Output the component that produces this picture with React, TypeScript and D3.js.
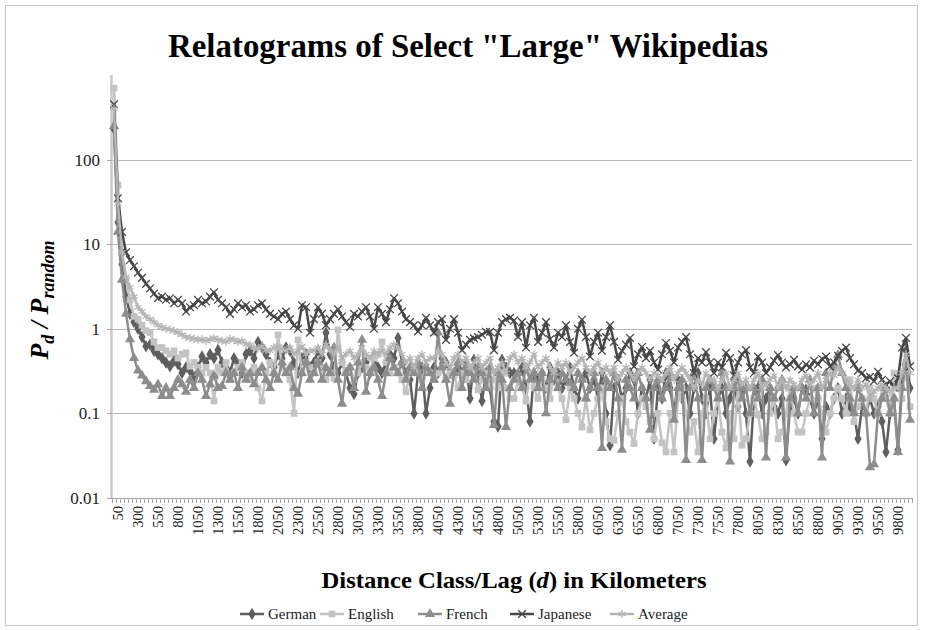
import React from "react";
import * as d3 from "d3";

// Distance classes (km), 50..10000 step 50
const categories: number[] = d3.range(50, 10001, 50);
const yTickValues = [0.01, 0.1, 1, 10, 100];
const yTickLabels = ["0.01", "0.1", "1", "10", "100"];

const german = [
  230, 18, 5.8, 2.4, 1.5, 1.2, 1.0, 0.8, 0.62, 0.65,
  0.55, 0.5, 0.45, 0.4, 0.36, 0.42, 0.38, 0.3, 0.35, 0.32,
  0.27, 0.35, 0.47, 0.4, 0.5, 0.45, 0.56, 0.4, 0.35, 0.3,
  0.45, 0.38, 0.3, 0.5, 0.55, 0.45, 0.7, 0.6, 0.5, 0.4,
  0.35, 0.5, 0.45, 0.6, 0.55, 0.4, 0.3, 0.45, 0.5, 0.35,
  0.4, 0.55, 0.45, 0.9, 0.5, 0.35, 0.3, 0.4, 0.3, 0.2,
  0.17, 0.3, 0.35, 0.4, 0.3, 0.45, 0.35, 0.3, 0.4, 0.5,
  0.45, 0.78, 0.4, 0.3, 0.25, 0.1, 0.3, 0.35, 0.1, 0.2,
  0.35, 0.3, 0.45, 0.4, 0.3, 0.3, 0.35, 0.3, 0.4, 0.15,
  0.43, 0.3, 0.14, 0.3, 0.2, 0.08, 0.07, 0.43, 0.35, 0.3,
  0.3, 0.25, 0.35, 0.2, 0.08, 0.3, 0.25, 0.3, 0.2, 0.35,
  0.25, 0.3, 0.2, 0.25, 0.35, 0.2, 0.15, 0.25, 0.3, 0.2,
  0.25, 0.15, 0.3, 0.1, 0.042, 0.2, 0.25, 0.15, 0.2, 0.3,
  0.25, 0.1, 0.2, 0.15, 0.25, 0.05, 0.2, 0.15, 0.3, 0.2,
  0.1, 0.25, 0.15, 0.2, 0.1, 0.2, 0.3, 0.15, 0.1, 0.2,
  0.05, 0.15, 0.2, 0.1, 0.15, 0.25, 0.12, 0.2, 0.1, 0.027,
  0.15, 0.2, 0.1, 0.15, 0.2, 0.12, 0.1, 0.15, 0.028, 0.12,
  0.15, 0.1, 0.2, 0.19, 0.15, 0.1, 0.15, 0.05, 0.12, 0.1,
  0.15, 0.2, 0.1, 0.15, 0.12, 0.1, 0.05, 0.12, 0.1, 0.15,
  0.1, 0.12, 0.08, 0.035, 0.1, 0.15, 0.037, 0.25, 0.55, 0.2,
];

const english = [
  700, 50, 8, 3.8, 2.2, 1.4, 1.3, 1.1, 0.95, 0.9,
  0.7, 0.6, 0.6, 0.55, 0.5, 0.55, 0.45, 0.5, 0.52, 0.36,
  0.4, 0.35, 0.3, 0.35, 0.3, 0.14, 0.35, 0.3, 0.4, 0.25,
  0.3, 0.35, 0.4, 0.3, 0.25, 0.35, 0.2, 0.14, 0.3, 0.4,
  0.3, 0.85, 0.35, 0.3, 0.25, 0.1, 0.74, 0.3, 0.4, 0.35,
  0.3, 0.4, 0.35, 0.25, 0.3, 0.26, 0.97, 0.4, 0.3, 0.35,
  0.25, 0.3, 0.4, 0.35, 0.3, 0.45, 0.5, 0.7, 0.4, 0.3,
  0.35, 0.3, 0.25, 0.18, 0.3, 0.35, 0.3, 0.25, 0.35, 0.3,
  0.25, 0.3, 0.35, 0.25, 0.3, 0.28, 0.2, 0.3, 0.25, 0.35,
  0.3, 0.19, 0.25, 0.3, 0.2, 0.25, 0.2, 0.3, 0.2, 0.15,
  0.15, 0.25, 0.2, 0.14, 0.3, 0.2, 0.15, 0.25, 0.2, 0.15,
  0.3, 0.2, 0.15, 0.084, 0.2, 0.15, 0.1, 0.069, 0.15, 0.064,
  0.1, 0.15, 0.2, 0.08, 0.05, 0.048, 0.1, 0.15, 0.08, 0.06,
  0.044, 0.1, 0.15, 0.12, 0.08, 0.05, 0.1, 0.045, 0.035, 0.1,
  0.035, 0.15, 0.2, 0.1, 0.06, 0.08, 0.035, 0.1, 0.15, 0.05,
  0.1, 0.15, 0.06, 0.039, 0.1, 0.05, 0.2, 0.042, 0.05, 0.1,
  0.15, 0.096, 0.05, 0.06, 0.1, 0.15, 0.05, 0.06, 0.1, 0.2,
  0.1, 0.06, 0.06, 0.1, 0.15, 0.2, 0.15, 0.1, 0.06, 0.1,
  0.15, 0.2, 0.15, 0.1, 0.25, 0.08, 0.12, 0.15, 0.1, 0.2,
  0.15, 0.1, 0.2, 0.15, 0.1, 0.3, 0.2, 0.15, 0.4, 0.12,
];

const french = [
  250, 14, 3.8, 1.5, 0.75, 0.45, 0.32, 0.28, 0.24, 0.21,
  0.19, 0.22, 0.16, 0.2, 0.16, 0.2, 0.25, 0.22, 0.18, 0.25,
  0.2, 0.3, 0.25, 0.16, 0.22, 0.28, 0.2, 0.21, 0.3, 0.25,
  0.3, 0.2, 0.35, 0.25, 0.3, 0.22, 0.3, 0.35, 0.25, 0.2,
  0.3, 0.25, 0.4, 0.3, 0.35, 0.2, 0.17, 0.3, 0.4, 0.25,
  0.3, 0.4, 0.25, 0.35, 0.3, 0.6, 0.25, 0.13, 0.3, 0.35,
  0.2, 0.4, 0.74, 0.18, 0.3, 0.35, 0.25, 0.16, 0.3, 0.45,
  0.35, 0.3, 0.4, 0.25, 0.35, 0.3, 0.4, 0.2, 0.35, 0.3,
  0.25, 0.9, 0.35, 0.25, 0.13, 0.3, 0.4, 0.2, 0.35, 0.3,
  0.25, 0.35, 0.3, 0.2, 0.35, 0.073, 0.3, 0.25, 0.069, 0.2,
  0.25, 0.3, 0.2, 0.35, 0.25, 0.3, 0.2, 0.3, 0.1, 0.25,
  0.3, 0.2, 0.3, 0.25, 0.23, 0.2, 0.3, 0.25, 0.15, 0.2,
  0.3, 0.2, 0.039, 0.25, 0.2, 0.3, 0.15, 0.037, 0.25, 0.2,
  0.15, 0.3, 0.2, 0.15, 0.064, 0.2, 0.25, 0.15, 0.2, 0.3,
  0.084, 0.2, 0.25, 0.028, 0.2, 0.3, 0.15, 0.028, 0.2, 0.25,
  0.2, 0.15, 0.3, 0.2, 0.027, 0.2, 0.25, 0.15, 0.2, 0.1,
  0.2, 0.15, 0.25, 0.03, 0.2, 0.15, 0.2, 0.25, 0.03, 0.15,
  0.2, 0.1, 0.2, 0.15, 0.25, 0.1, 0.2, 0.03, 0.3, 0.2,
  0.35, 0.49, 0.3, 0.2, 0.15, 0.1, 0.2, 0.15, 0.1, 0.023,
  0.025, 0.1, 0.15, 0.2, 0.1, 0.15, 0.035, 0.2, 0.4, 0.084,
];

const japanese = [
  450, 35, 14, 8, 6.5, 5.5, 4.6, 4.0, 3.4, 3.0,
  2.6, 2.3, 2.4, 2.2, 2.3, 2.0, 2.2, 2.0, 1.6, 1.8,
  1.9, 2.2, 2.0, 2.1, 2.4, 2.7, 2.2, 2.0, 1.8, 1.5,
  1.7, 2.0, 1.8, 1.9, 1.6, 1.7, 1.9, 2.0, 1.7, 1.5,
  1.4, 1.3, 1.5, 1.6, 1.3, 1.1, 1.0, 1.9, 1.8, 0.9,
  1.3, 1.8, 1.5, 1.1, 1.3, 1.5, 1.7, 1.4, 1.2, 1.05,
  1.5, 1.4, 1.6, 1.8, 1.4, 1.0, 1.8, 1.5, 1.2, 1.7,
  2.3, 2.0, 1.6, 1.3, 1.2, 1.1, 0.93, 1.1, 1.35, 1.1,
  0.9, 1.2, 1.3, 0.74, 1.0, 1.3, 0.9, 0.56, 0.65, 0.74,
  0.77, 0.8, 0.85, 0.92, 0.92, 0.56, 0.9, 1.2, 1.3, 1.35,
  1.25, 0.8, 1.2, 0.6, 1.1, 1.35, 0.7, 0.9, 1.2, 0.75,
  0.6, 0.9, 0.8, 1.1, 0.7, 0.52, 1.0, 1.28, 0.8, 0.47,
  0.7, 0.9, 0.55, 0.8, 1.1, 0.7, 0.43, 0.55, 0.65, 0.78,
  0.36, 0.5, 0.61, 0.45, 0.55, 0.4, 0.33, 0.5, 0.68, 0.55,
  0.4, 0.6, 0.7, 0.8, 0.5, 0.3, 0.45, 0.4, 0.53, 0.4,
  0.3, 0.4, 0.35, 0.52, 0.45, 0.28, 0.4, 0.5, 0.56, 0.35,
  0.3, 0.47, 0.4, 0.3, 0.35, 0.42, 0.49, 0.4, 0.35, 0.38,
  0.43, 0.36, 0.33, 0.38, 0.35, 0.42, 0.38, 0.44, 0.47, 0.36,
  0.4, 0.48, 0.55, 0.6, 0.45, 0.38, 0.32, 0.3, 0.26, 0.27,
  0.24, 0.31, 0.25, 0.22, 0.24, 0.2, 0.26, 0.6, 0.78, 0.36,
];

const average = [
  400, 30, 8, 4.1, 3.1, 2.4, 1.8, 1.6, 1.4, 1.3,
  1.2, 1.1, 1.05, 1.0, 0.98, 0.95, 0.9, 0.85, 0.8, 0.78,
  0.76, 0.74, 0.75, 0.72, 0.75, 0.78, 0.74, 0.72, 0.7, 0.76,
  0.74, 0.7, 0.72, 0.66, 0.65, 0.6, 0.58, 0.62, 0.56, 0.55,
  0.6, 0.62, 0.58, 0.55, 0.6, 0.5, 0.55, 0.62, 0.5, 0.55,
  0.55, 0.6, 0.5, 0.65, 0.55, 0.5, 0.6, 0.45, 0.5, 0.55,
  0.45, 0.5, 0.6, 0.5, 0.45, 0.55, 0.5, 0.55, 0.5, 0.6,
  0.65, 0.6, 0.5, 0.4, 0.45, 0.35, 0.45, 0.5, 0.4, 0.45,
  0.45, 0.55, 0.5, 0.4, 0.35, 0.45, 0.5, 0.4, 0.45, 0.35,
  0.4, 0.45, 0.35, 0.4, 0.45, 0.3, 0.35, 0.4, 0.3, 0.45,
  0.5, 0.4, 0.45, 0.35, 0.4, 0.5, 0.35, 0.4, 0.45, 0.35,
  0.3, 0.4, 0.35, 0.4, 0.3, 0.35, 0.4, 0.45, 0.35, 0.3,
  0.35, 0.4, 0.3, 0.35, 0.3, 0.35, 0.25, 0.3, 0.35, 0.3,
  0.25, 0.3, 0.35, 0.3, 0.25, 0.3, 0.28, 0.25, 0.3, 0.35,
  0.25, 0.3, 0.35, 0.3, 0.25, 0.2, 0.25, 0.22, 0.3, 0.25,
  0.25, 0.2, 0.25, 0.3, 0.2, 0.25, 0.3, 0.22, 0.25, 0.2,
  0.25, 0.3, 0.2, 0.22, 0.25, 0.28, 0.2, 0.25, 0.2, 0.25,
  0.22, 0.2, 0.25, 0.28, 0.22, 0.25, 0.3, 0.2, 0.25, 0.3,
  0.28, 0.35, 0.3, 0.25, 0.22, 0.2, 0.25, 0.2, 0.22, 0.15,
  0.18, 0.2, 0.22, 0.2, 0.18, 0.2, 0.2, 0.3, 0.5, 0.3,
];

const seriesNames = ["German", "English", "French", "Japanese", "Average"];
const seriesData = [german, english, french, japanese, average];
const seriesColors = ["#5e5e5e", "#c3c3c3", "#8d8d8d", "#474747", "#b5b5b5"];
const seriesSymbols = [d3.symbolDiamond, d3.symbolSquare, d3.symbolTriangle, d3.symbolX, d3.symbolAsterisk];
const symbolFilled = [true, true, true, false, false];
const symbolSizes = [45, 45, 45, 40, 45];

const W = 925;
const H = 630;
const FONT = { fontFamily: '"Liberation Serif", "Times New Roman", Times, serif' };

export default function App() {
  const x = d3.scaleBand<number>().domain(categories).range([112, 912]).padding(0);
  const bw = x.bandwidth();
  const cx = (c: number) => (x(c) as number) + bw / 2;
  const y = d3.scaleLog().domain([0.01, 1000]).range([498, 75]);

  const line = d3
    .line<number>()
    .x((_, i) => cx(categories[i]))
    .y((v) => y(v));

  const tickLabelCats = categories.filter((_, i) => i % 5 === 0);

  const legendX = [240, 320, 418, 510, 610];

  return (
    <svg width={W} height={H} style={{ position: "absolute", left: 0, top: 0, background: "#fff", ...FONT }}>
      <rect x={0} y={0} width={W} height={H} fill="#fff" />
      <rect x={5.5} y={5.5} width={912} height={620} fill="none" stroke="#c4c4c4" strokeWidth={1} />
      <text x={468} y={57} textAnchor="middle" fontSize={34} fontWeight="bold" fill="#000" style={FONT}
        textLength={600} lengthAdjust="spacingAndGlyphs">
        Relatograms of Select "Large" Wikipedias
      </text>

      {/* gridlines */}
      {yTickValues.slice(1).map((v) => (
        <line key={v} x1={112} x2={912} y1={Math.round(y(v)) + 0.5} y2={Math.round(y(v)) + 0.5} stroke="#b8b8b8" strokeWidth={1} />
      ))}
      {/* x axis */}
      <line x1={112} x2={912} y1={498.5} y2={498.5} stroke="#a8a8a8" strokeWidth={1} />
      {d3.range(categories.length + 1).map((i) => (
        <line key={i} x1={112 + i * bw + 0.5} x2={112 + i * bw + 0.5} y1={498} y2={503} stroke="#a8a8a8" strokeWidth={1} />
      ))}
      {/* y axis */}
      <line x1={111.5} x2={111.5} y1={75} y2={498} stroke="#c8c8c8" strokeWidth={2.5} />
      {yTickValues.map((v) => (
        <line key={"t" + v} x1={107} x2={112} y1={Math.round(y(v)) + 0.5} y2={Math.round(y(v)) + 0.5} stroke="#a8a8a8" />
      ))}
      {yTickValues.map((v, i) => (
        <text key={"l" + v} x={100} y={y(v) + 6} textAnchor="end" fontSize={17} fill="#222" style={FONT}>
          {yTickLabels[i]}
        </text>
      ))}
      {tickLabelCats.map((c) => (
        <text
          key={"x" + c}
          transform={`translate(${cx(c) + 4},${506}) rotate(-90)`}
          textAnchor="end"
          dy="0.35em"
          fontSize={14.5}
          fill="#222"
          style={FONT}
        >
          {String(c)}
        </text>
      ))}

      {/* series */}
      {seriesData.map((data, s) => {
        const sym = d3.symbol(seriesSymbols[s], symbolSizes[s])();
        return (
          <g key={seriesNames[s]}>
            <path d={line(data) || ""} fill="none" stroke={seriesColors[s]} strokeWidth={2.5} strokeLinejoin="round" />
            {data.map((v, i) => (
              <path
                key={i}
                d={sym || ""}
                transform={`translate(${cx(categories[i])},${y(v)})`}
                fill={symbolFilled[s] ? seriesColors[s] : "none"}
                stroke={seriesColors[s]}
                strokeWidth={symbolFilled[s] ? 0 : 1.3}
              />
            ))}
          </g>
        );
      })}

      {/* axis titles */}
      <text x={514} y={588} textAnchor="middle" fontSize={24} fontWeight="bold" fill="#000" style={FONT}
        textLength={385} lengthAdjust="spacingAndGlyphs">
        Distance Class/Lag (<tspan fontStyle="italic">d</tspan>) in Kilometers
      </text>
      <text transform="translate(48,300) rotate(-90)" textAnchor="middle" fontSize={26} fontWeight="bold" fontStyle="italic" fill="#000" style={FONT}>
        P<tspan fontSize={18} dy={6}>d</tspan>
        <tspan dy={-6}> / P</tspan>
        <tspan fontSize={18} dy={6}>random</tspan>
      </text>

      {/* legend */}
      {seriesNames.map((name, s) => {
        const lx = legendX[s];
        const sym = d3.symbol(seriesSymbols[s], symbolSizes[s])();
        return (
          <g key={"lg" + name}>
            <line x1={lx} x2={lx + 24} y1={614} y2={614} stroke={seriesColors[s]} strokeWidth={2.5} />
            <path
              d={sym || ""}
              transform={`translate(${lx + 12},614)`}
              fill={symbolFilled[s] ? seriesColors[s] : "none"}
              stroke={seriesColors[s]}
              strokeWidth={symbolFilled[s] ? 0 : 1.3}
            />
            <text x={lx + 28} y={619} fontSize={15} fill="#222" style={FONT}>
              {name}
            </text>
          </g>
        );
      })}
    </svg>
  );
}
